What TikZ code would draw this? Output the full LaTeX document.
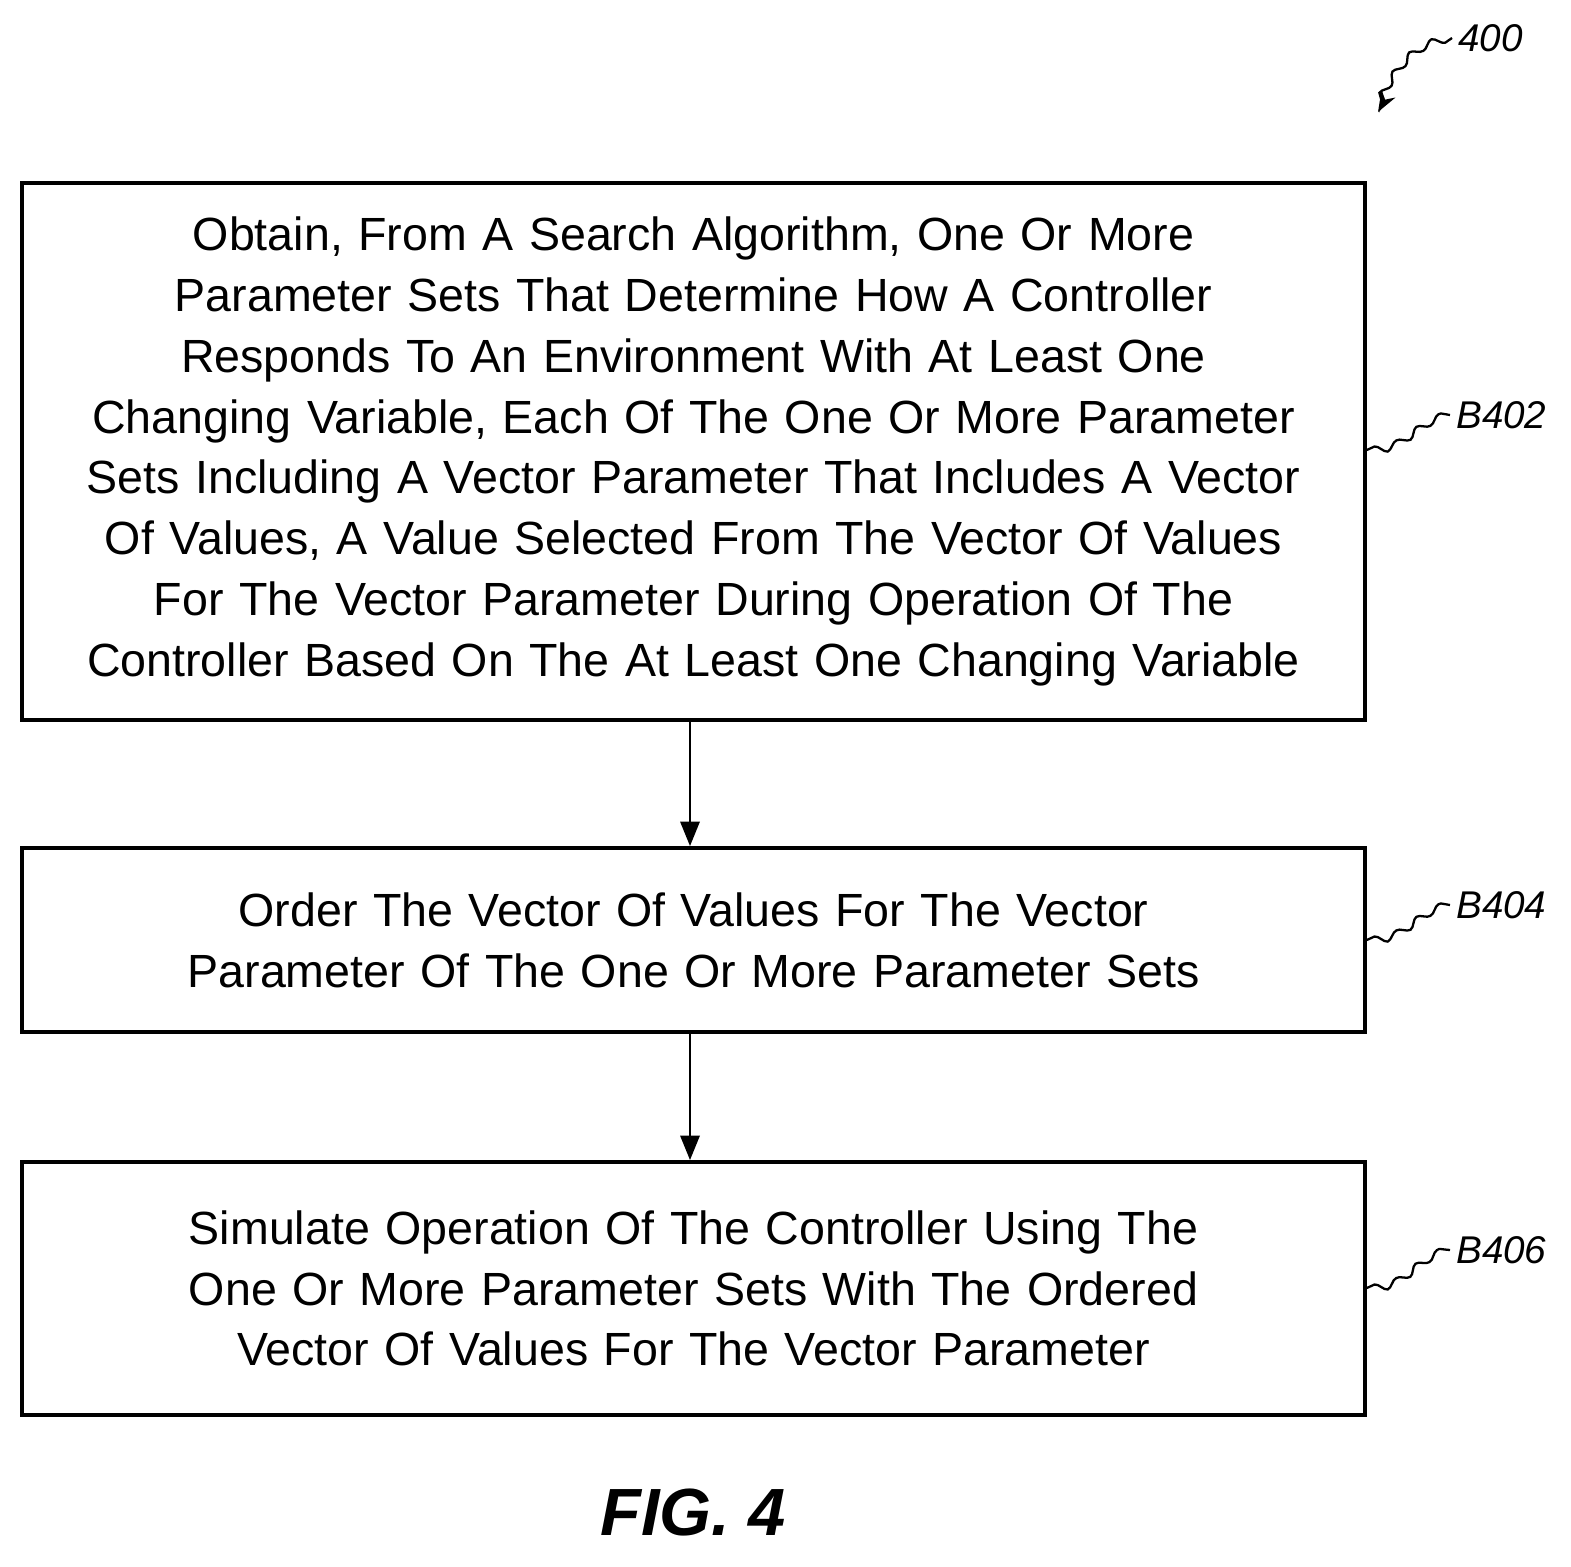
\documentclass[tikz,border=0pt]{standalone}
\usepackage{fontspec}
\setmainfont{Liberation Sans}
\usetikzlibrary{positioning,arrows.meta,decorations.pathmorphing}
\tikzset{
  stepbox/.style={draw, line width=2.2pt, minimum width=26.86cm, text width=26.6cm, inner xsep=0pt, align=center,
    font=\fontsize{26.5}{34.6}\selectfont},
  flow/.style={line width=1.4pt, -{Triangle[length=14pt,width=11pt]}},
  tag/.style={font=\fontsize{22}{26}\selectfont\itshape},
  squig/.style={line width=1.3pt, decorate, decoration={snake, amplitude=2pt, segment length=14pt}}
}
\begin{document}
\begin{tikzpicture}[x=0.02cm,y=-0.02cm]
\useasboundingbox (0,0) rectangle (1571,1566);
\node[stepbox, minimum height=10.74cm] (obtain) at (693.5,451.5) {Obtain, From A Search Algorithm, One Or More\\
Parameter Sets That Determine How A Controller\\
Responds To An Environment With At Least One\\
Changing Variable, Each Of The One Or More Parameter\\
Sets Including A Vector Parameter That Includes A Vector\\
Of Values, A Value Selected From The Vector Of Values\\
For The Vector Parameter During Operation Of The\\
Controller Based On The At Least One Changing Variable};
\node[stepbox, minimum height=3.68cm] (order) at (693.5,940) {Order The Vector Of Values For The Vector\\
Parameter Of The One Or More Parameter Sets};
\node[stepbox, minimum height=5.06cm] (simulate) at (693.5,1288.5) {Simulate Operation Of The Controller Using The\\
One Or More Parameter Sets With The Ordered\\
Vector Of Values For The Vector Parameter};
% connectors
\draw[flow] (obtain.south -| 690,0) -- (order.north -| 690,0);
\draw[flow] (order.south -| 690,0) -- (simulate.north -| 690,0);
% reference labels
\node[tag, anchor=west] (b402) at (1450,415) {B402};
\node[tag, anchor=west] (b404) at (1450,905) {B404};
\node[tag, anchor=west] (b406) at (1450,1250) {B406};
\draw[squig] (obtain.east |- 0,450) to[out=0,in=180] (b402.west);
\draw[squig] (order.east |- 0,940) to[out=0,in=180] (b404.west);
\draw[squig] (simulate.east |- 0,1288) to[out=0,in=180] (b406.west);
\node[tag, anchor=west] (fig) at (1452,38) {400};
\coordinate (figtip) at (1378,112);
\draw[squig, -{Stealth[length=12pt]}] (fig.west) to[out=190,in=60] (figtip);
\node[font=\fontsize{38}{42}\selectfont\bfseries\itshape] (caption) at (693,1512) {FIG. 4};
\end{tikzpicture}
\end{document}
